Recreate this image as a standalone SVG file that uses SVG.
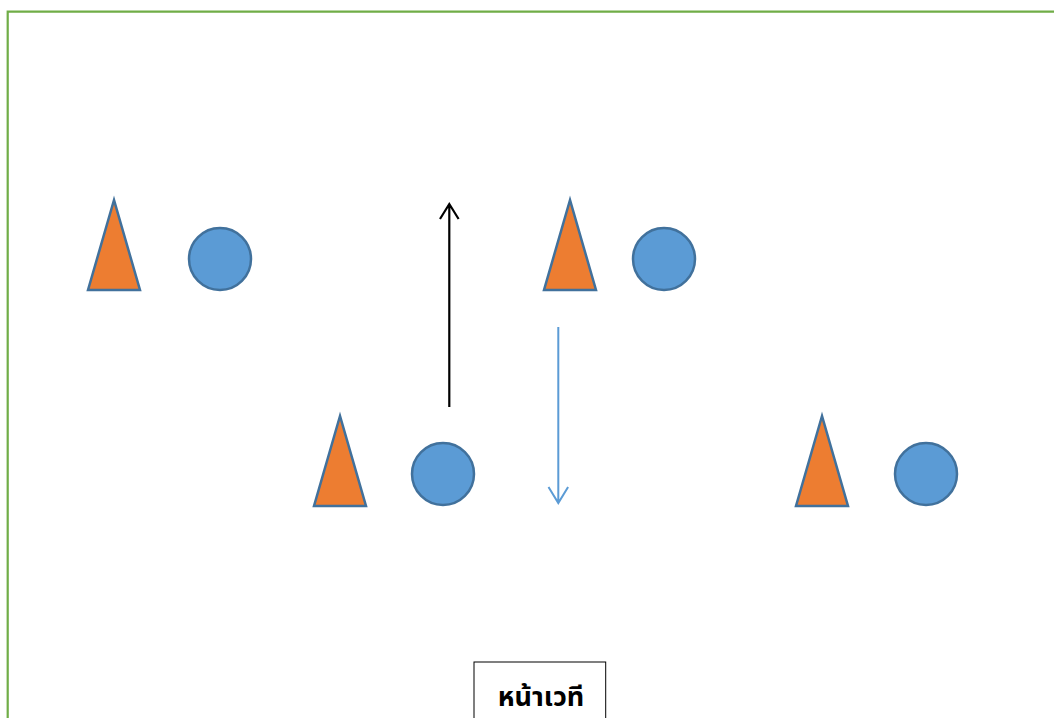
<svg xmlns="http://www.w3.org/2000/svg" width="1054" height="718" viewBox="0 0 1054 718">
<style>
.tri{fill:#ED7D31;stroke:#41719C;stroke-width:2.5;stroke-linejoin:miter}
.dot{fill:#5B9BD5;stroke:#41719C;stroke-width:2.5}
.lbl{font-family:"Noto Sans Thai","Noto Sans","DejaVu Sans",sans-serif;font-weight:bold;font-size:27px;fill:#000}
</style>
<rect x="0" y="0" width="1054" height="718" fill="#fff"/>
<path d="M7.7,718 V11.7 H1054" fill="none" stroke="#70AD47" stroke-width="2.2"/>
<g id="pair1">
<polygon class="tri" points="114,200 88,290 140,290"/>
<circle class="dot" cx="220" cy="259" r="31"/>
</g>
<g id="pair2">
<polygon class="tri" points="570,200 544,290 596,290"/>
<circle class="dot" cx="664" cy="259" r="31"/>
</g>
<g id="pair3">
<polygon class="tri" points="340,416 314,506 366,506"/>
<circle class="dot" cx="443" cy="474" r="31"/>
</g>
<g id="pair4">
<polygon class="tri" points="822,416 796,506 848,506"/>
<circle class="dot" cx="926" cy="474" r="31"/>
</g>
<g id="connectors">
<path d="M449.3,407 V204 M440,219 L449.3,204 L458.6,219" fill="none" stroke="#000" stroke-width="2.2"/>
<path d="M558.3,327 V503 M548.5,487 L558.3,503 L568.1,487" fill="none" stroke="#5B9BD5" stroke-width="2"/>
</g>
<g id="stage">
<rect x="474" y="662" width="131.7" height="70" fill="#fff" stroke="#000" stroke-width="1"/>
<text class="lbl" x="541" y="706" text-anchor="middle">หน้าเวที</text>
</g>
</svg>
